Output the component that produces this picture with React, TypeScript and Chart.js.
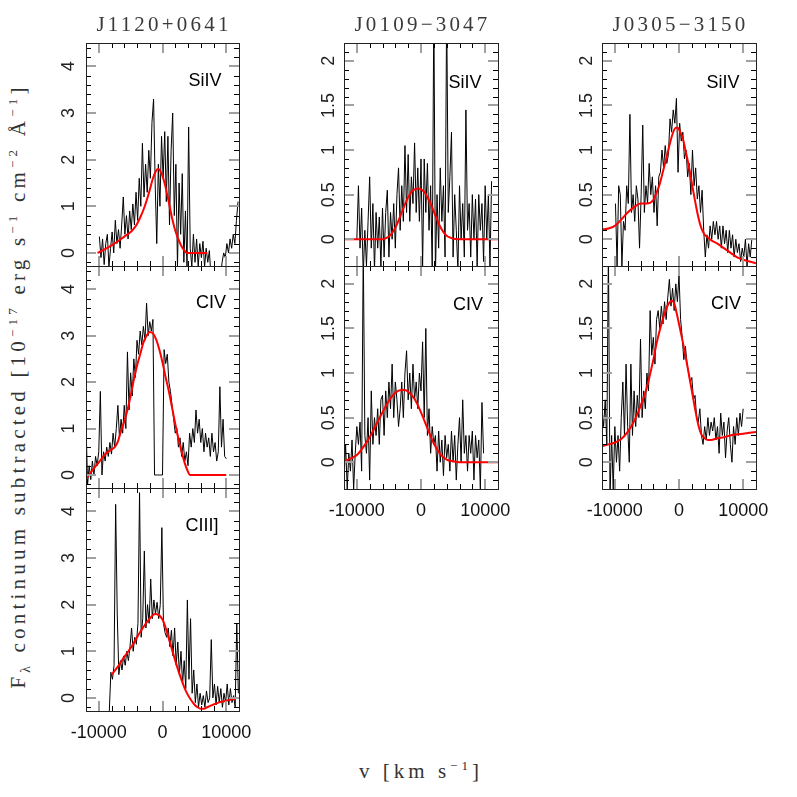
import React, { useEffect, useRef } from 'react';
import { Chart, registerables } from 'chart.js';

Chart.register(...registerables);

// ---------------- DATA ----------------
const V_STEP = 250; // km/s sampling of the plotted spectra

// J1120+0641 SiIV
const J1120_SIV_V0 = -9900;
const J1120_SIV_FLUX = [
  0.35, -0.1, 0.3, -0.25, 0.2, 0.4, -0.3, 0.1, 0.45, 0.0,
  0.7, 0.2, 0.5, 0.1, 0.6, 1.2, 0.4, 0.8, 0.3, 0.9,
  0.5, 1.05, 0.6, 1.3, 0.7, 1.6, 1.0, 2.35, 1.2, 1.9,
  1.3, 2.2, 1.6, 2.8, 3.3, 1.5, 0.2, 1.9, 1.0, 2.5,
  1.6, 2.6, 1.1, 2.5, 0.6, 2.2, 3.0, 0.8, 1.9, -0.3,
  1.5, 0.4, 1.7, -0.2, 0.9, -0.3, 2.7, 0.1, -0.3, 0.4,
  -0.2, 0.3, -0.3, 0.2, -0.1, 0.25, -0.3, 0.1, -0.2, 0.05,
  -0.5, -0.3, -0.6, -0.4, -0.7, -0.35, -0.5,
  -0.2, 0.0, -0.1, 0.2, 0.0, 0.3, 0.1, 0.4, 0.2, 0.7, 1.1,
];
const J1120_SIV_FIT_V = [-10200, -9000, -8000, -7000, -6000, -5000, -4500, -4000, -3500, -3000, -2500, -2000, -1500, -1000, -700, -400, 0, 500, 1000, 1500, 2000, 2500, 3000, 3500, 3800, 5000, 7000];
const J1120_SIV_FIT_F = [0.0, 0.08, 0.16, 0.25, 0.35, 0.45, 0.52, 0.62, 0.76, 0.92, 1.12, 1.35, 1.6, 1.76, 1.8, 1.77, 1.65, 1.4, 1.08, 0.75, 0.48, 0.29, 0.14, 0.04, 0.0, 0.0, 0.0];

// J1120+0641 CIV
const J1120_CIV_V0 = -12000;
const J1120_CIV_FLUX = [
  1.1, -0.2, 0.2, -0.1, 0.3, 0.0, 0.4, 0.2, 0.5, 1.8,
  0.0, 0.5, 0.3, 0.6, 0.4, 0.7, 0.45, 0.9, 0.6, 1.0,
  1.5, 0.8, 1.2, 0.9, 1.5, 1.0, 2.65, 1.4, 2.2, 1.7,
  2.5, 2.1, 2.9, 2.6, 3.1, 2.8, 3.2, 2.9, 3.7, 3.0,
  3.3, 3.1, 3.35, 0.0, 0.0, 0.0, 0.0, 0.0, 0.0, 2.7,
  2.4, 2.6, 2.0, 1.8, 1.5, 1.2, 0.9, 1.0, 0.6, 0.8,
  0.4, 0.7, 0.3, 0.5, 0.2, 0.9, 0.6, 1.0, 0.7, 1.4,
  0.9, 1.2, 0.7, 1.0, 0.5, 0.9, 0.6, 0.8, 0.4, 0.9,
  0.5, 0.7, 0.3, 0.5, 1.9, 0.6, 1.2, 0.4, 0.35,
];
const J1120_CIV_FIT_V = [-12000, -11000, -10000, -9000, -8000, -7500, -7000, -6500, -6000, -5500, -5000, -4500, -4000, -3500, -3000, -2500, -2000, -1500, -1000, -500, 0, 500, 1000, 1500, 2000, 2500, 3000, 3500, 4000, 4300, 5000, 6000, 7000, 8000, 9000, 10000];
const J1120_CIV_FIT_F = [-0.1, 0.1, 0.27, 0.45, 0.55, 0.6, 0.72, 0.95, 1.15, 1.4, 1.7, 2.05, 2.35, 2.6, 2.85, 3.0, 3.08, 3.05, 2.92, 2.7, 2.42, 2.1, 1.8, 1.45, 1.1, 0.78, 0.5, 0.25, 0.07, 0.0, 0.0, 0.0, 0.0, 0.0, 0.0, 0.0];

// J1120+0641 CIII]
const J1120_CIII_V0 = -8350;
const J1120_CIII_FLUX = [
  -0.3, 0.55, 0.4, 0.7, 4.15, 1.8, 0.5, 0.8, 0.6, 0.9,
  0.7, 1.0, 0.8, 1.1, 1.5, 1.0, 1.3, 1.15, 1.6, 4.4,
  1.3, 1.7, 3.15, 1.5, 2.0, 1.6, 2.55, 1.7, 2.1, 1.8,
  2.05, 1.7, 2.0, 3.65, 1.6, 1.4, 1.3, 1.5, 1.1, 1.45,
  0.9, 1.5, 0.7, 1.2, 0.5, 1.0, 0.3, 0.8, 0.2, 2.1,
  0.4, 1.7, 0.1, 0.6, -0.1, 0.3, -0.2, 0.1, -0.15, 0.05,
  -0.2, 0.15, -0.1, 0.0, 1.25, 0.0, 0.3, -0.15, 0.25, -0.1,
  0.2, -0.2, 0.1, -0.1, 0.3, -0.15, 0.2, -0.1, 0.05, -0.2,
  1.6, 0.1,
];
const J1120_CIII_FIT_V = [-8000, -7000, -6000, -5000, -4000, -3000, -2000, -1200, -500, 0, 500, 1000, 1500, 2000, 2500, 3000, 3500, 4000, 4500, 5000, 5500, 6000, 6500, 7000, 7500, 8000, 9000, 10000, 11000, 11500];
const J1120_CIII_FIT_F = [0.5, 0.67, 0.88, 1.07, 1.3, 1.52, 1.7, 1.8, 1.77, 1.68, 1.5, 1.27, 1.03, 0.8, 0.58, 0.38, 0.2, 0.06, -0.05, -0.14, -0.2, -0.23, -0.23, -0.2, -0.17, -0.14, -0.09, -0.06, -0.03, -0.02];

// J0109-3047 SiIV
const J0109_SIV_V0 = -10000;
const J0109_SIV_FLUX = [
  0.0, 0.6, -0.1, 0.35, -0.4, 0.1, -0.3, 0.2, 0.7, -0.1,
  0.4, -0.35, 0.3, -0.1, 0.25, -0.3, 0.35, -0.2, 0.3, 0.55,
  -0.2, 0.3, 0.0, 0.4, -0.1, 0.5, 0.8, 0.1, 0.6, 0.2,
  1.05, 0.3, 0.95, 0.2, 0.7, 0.4, 1.08, 0.3, 0.8, 0.2,
  0.9, -0.3, 0.9, 0.3, 0.85, 0.1, 0.6, -0.35, 2.6, -0.4,
  0.5, -0.1, 0.8, 0.2, 0.6, -0.2, 2.6, 0.3, 0.7, 1.2,
  -0.2, 0.5, 0.1, -0.35, 0.6, 0.0, 0.4, -0.2, 1.45, 0.1,
  0.4, -0.2, 0.5, 0.0, 0.45, -0.3, 0.5, 0.1, 0.4, -0.25,
  0.6, 0.0, 0.5, -0.3, 0.65,
];
const J0109_SIV_FIT_V = [-12000, -6000, -5000, -4500, -4000, -3500, -3000, -2500, -2000, -1500, -1000, -400, 0, 500, 1000, 1500, 2000, 2500, 3000, 3500, 4000, 4500, 5000, 6000, 12000];
const J0109_SIV_FIT_F = [0.0, 0.0, 0.03, 0.07, 0.13, 0.21, 0.3, 0.39, 0.47, 0.53, 0.56, 0.57, 0.56, 0.53, 0.47, 0.4, 0.31, 0.22, 0.14, 0.08, 0.04, 0.02, 0.005, 0.0, 0.0];

// J0109-3047 CIV
const J0109_CIV_V0 = -12000;
const J0109_CIV_FLUX = [
  -0.2, 0.2, -0.3, 0.1, -0.1, 0.25, -0.3, 0.1, 0.4, 0.2,
  0.45, -0.1, 2.4, 0.3, 0.1, 0.5, -0.2, 0.8, 0.2, 0.5,
  0.3, 0.6, 0.2, 0.7, 0.75, 0.3, 0.8, 0.5, 0.9, 0.6,
  1.1, 0.5, 0.9, 0.7, 0.4, 0.6, 0.9, 0.5, 1.0, 1.25,
  0.7, 1.0, 0.6, 1.1, 0.7, 0.9, 0.6, 1.0, 0.8, 1.35,
  0.5, 1.5, 0.3, 0.6, 0.1, 0.4, 0.2, 0.3, -0.1, 0.35,
  0.0, 0.25, -0.15, 0.3, 0.05, 0.2, -0.1, 0.35, 0.0, 0.3,
  -0.2, 0.2, 0.5, 0.0, 0.7, 0.1, 0.3, -0.1, 0.3, 0.1,
  0.35, -0.2, 0.3, 0.05, 0.25, -0.3, 0.67, 0.1,
];
const J0109_CIV_FIT_V = [-12000, -11000, -10000, -9000, -8000, -7000, -6000, -5000, -4000, -3000, -2500, -2000, -1000, 0, 1000, 2000, 3000, 4000, 5000, 6000, 12000];
const J0109_CIV_FIT_F = [0.01, 0.04, 0.08, 0.17, 0.28, 0.42, 0.56, 0.69, 0.78, 0.81, 0.81, 0.79, 0.71, 0.56, 0.38, 0.21, 0.09, 0.03, 0.01, 0.0, 0.0];

// J0305-3150 SiIV
const J0305_SIV_V0 = -9900;
const J0305_SIV_FLUX = [
  0.4, -0.3, 0.6, 0.5, -0.3, 0.2, 0.1, 0.6, 0.4, 1.4,
  0.3, 0.5, 0.2, 0.6, 0.45, -0.1, 0.5, 1.28, 0.3, 0.6,
  0.4, 0.85, 0.5, 0.7, 0.3, 0.6, 0.15, 0.7, 0.75, 1.0,
  0.8, 1.05, 0.85, 0.95, 1.35, 1.2, 1.45, 1.3, 1.58, 0.75,
  1.3, 1.1, 1.2, 0.9, 1.0, 0.7, 0.85, 0.5, 1.0, 0.6,
  0.8, 0.45, 0.6, 0.3, 0.55, 0.1, -0.2, 0.05, -0.1, 0.15,
  0.0, 0.2, 0.05, 0.2, 0.0, 0.15, -0.1, 0.15, -0.05, 0.1,
  -0.15, 0.1, -0.1, 0.05, -0.2, 0.0, -0.15, -0.05, -0.25, -0.1,
  -0.2, 0.0, -0.3, -0.05, -0.2, 0.0,
];
const J0305_SIV_FIT_V = [-12000, -11000, -10000, -9000, -8000, -7000, -6000, -5000, -4000, -3500, -3000, -2500, -2000, -1500, -1000, -500, -200, 200, 600, 1000, 1500, 2000, 2500, 3000, 3500, 4000, 4500, 5000, 6000, 7000, 8000, 9000, 10000, 11000, 12000];
const J0305_SIV_FIT_F = [0.11, 0.12, 0.15, 0.22, 0.3, 0.36, 0.4, 0.4, 0.44, 0.52, 0.62, 0.76, 0.9, 1.05, 1.18, 1.25, 1.25, 1.2, 1.13, 1.0, 0.83, 0.63, 0.43, 0.25, 0.12, 0.05, 0.02, -0.01, -0.05, -0.1, -0.15, -0.2, -0.23, -0.25, -0.27];

// J0305-3150 CIV
const J0305_CIV_V0 = -12000;
const J0305_CIV_FLUX = [
  0.6, 0.4, 0.7, 0.2, 2.4, -0.4, 0.3, -0.3, 0.4, 0.0,
  0.3, -0.1, 0.5, 0.9, 0.3, 1.1, 0.4, 0.0, 1.1, 0.3,
  0.8, 0.4, 0.75, 0.5, 1.38, 0.5, 0.8, 0.6, 1.0, 0.8,
  1.7, 1.2, 1.4, 1.1, 1.6, 1.7, 1.5, 1.75, 1.55, 1.8,
  1.6, 1.85, 2.05, 1.75, 1.95, 1.7, 2.0, 1.8, 2.1, 1.6,
  1.4, 1.15, 1.3, 1.1, 1.0, 0.9, 0.95, 0.7, 0.75, 0.5,
  0.45, 0.6, 0.3, 0.2, 0.4, 0.25, 0.5, 0.3, 0.45, 0.35,
  0.5, 0.25, 0.4, 0.1, 0.55, 0.3, 0.45, 0.05, 0.35, 0.5,
  0.2, 0.0, 0.4, 0.2, 0.5, 0.3, 0.55, 0.4, 0.6,
];
const J0305_CIV_FIT_V = [-12000, -11000, -10000, -9000, -8000, -7000, -6000, -5000, -4000, -3500, -3000, -2500, -2000, -1500, -1100, -700, -300, 0, 500, 1000, 1500, 2000, 2500, 3000, 3500, 4000, 4500, 5000, 6000, 7000, 8000, 9000, 10000, 11000, 12000];
const J0305_CIV_FIT_F = [0.18, 0.2, 0.22, 0.26, 0.34, 0.46, 0.63, 0.84, 1.15, 1.33, 1.48, 1.61, 1.72, 1.79, 1.81, 1.77, 1.65, 1.55, 1.38, 1.2, 1.0, 0.8, 0.6, 0.42, 0.31, 0.27, 0.25, 0.25, 0.27, 0.28, 0.3, 0.31, 0.32, 0.33, 0.34];

// Axis ticks / labels
const X_MIN = -12000;
const X_MAX = 12000;
const X_MINOR = 2000;
const X_MAJOR = 10000;
const Y_COL1 = { min: -0.28, max: 4.5, minor: 0.2, major: 1 };
const Y_COL23 = { min: -0.3, max: 2.2, minor: 0.1, major: 0.5 };

const TITLES = ['J1120+0641', 'J0109\u22123047', 'J0305\u22123150'];

// ---------------- LAYOUT ----------------
const COL_LEFT = [86, 344, 602];
const COL_WIDTH = [153, 154, 154];
const ROWS_COL1 = [[43, 223], [266, 222], [488, 223]];
const ROWS_COL23 = [[43, 223], [266, 223]];
const YW = 50;
const PT = 8;
const PR = 30;

type PanelDef = {
  col: number; row: number; bottom: boolean;
  v0: number; flux: number[]; fitV: number[]; fitF: number[];
  line: string; labelPos: [number, number];
};

const PANELS: PanelDef[] = [
  { col: 0, row: 0, bottom: false, v0: J1120_SIV_V0, flux: J1120_SIV_FLUX, fitV: J1120_SIV_FIT_V, fitF: J1120_SIV_FIT_F, line: 'SiIV', labelPos: [205, 80] },
  { col: 0, row: 1, bottom: false, v0: J1120_CIV_V0, flux: J1120_CIV_FLUX, fitV: J1120_CIV_FIT_V, fitF: J1120_CIV_FIT_F, line: 'CIV', labelPos: [211, 302] },
  { col: 0, row: 2, bottom: true, v0: J1120_CIII_V0, flux: J1120_CIII_FLUX, fitV: J1120_CIII_FIT_V, fitF: J1120_CIII_FIT_F, line: 'CIII]', labelPos: [202, 525] },
  { col: 1, row: 0, bottom: false, v0: J0109_SIV_V0, flux: J0109_SIV_FLUX, fitV: J0109_SIV_FIT_V, fitF: J0109_SIV_FIT_F, line: 'SiIV', labelPos: [465, 82] },
  { col: 1, row: 1, bottom: true, v0: J0109_CIV_V0, flux: J0109_CIV_FLUX, fitV: J0109_CIV_FIT_V, fitF: J0109_CIV_FIT_F, line: 'CIV', labelPos: [468, 304] },
  { col: 2, row: 0, bottom: false, v0: J0305_SIV_V0, flux: J0305_SIV_FLUX, fitV: J0305_SIV_FIT_V, fitF: J0305_SIV_FIT_F, line: 'SiIV', labelPos: [723, 82] },
  { col: 2, row: 1, bottom: true, v0: J0305_CIV_V0, flux: J0305_CIV_FLUX, fitV: J0305_CIV_FIT_V, fitF: J0305_CIV_FIT_F, line: 'CIV', labelPos: [726, 303] },
];

const SANS = '"Liberation Sans", Arial, Helvetica, sans-serif';
const SERIF = '"Liberation Serif", "Times New Roman", serif';

const isMult = (v: number, m: number) => Math.abs(v / m - Math.round(v / m)) < 1e-6;

function tickValues(scale: any, step: number): number[] {
  const out: number[] = [];
  const k0 = Math.ceil(scale.min / step - 1e-9);
  const k1 = Math.floor(scale.max / step + 1e-9);
  for (let k = k0; k <= k1; k++) out.push(k * step);
  return out;
}

function makeFramePlugin(xMinor: number, xMajor: number, yMinor: number, yMajor: number) {
  return {
    id: 'frameTicks',
    afterDatasetsDraw(chart: any) {
      const ctx = chart.ctx as CanvasRenderingContext2D;
      const a = chart.chartArea;
      const xs = chart.scales.x;
      const ys = chart.scales.y;
      const L = Math.round(a.left);
      const R = Math.round(a.right);
      const T = Math.round(a.top);
      const B = Math.round(a.bottom);
      ctx.save();
      for (const v of tickValues(xs, xMinor)) {
        const px = Math.round(xs.getPixelForValue(v));
        if (px <= L + 1 || px >= R - 1) continue;
        const major = isMult(v, xMajor);
        const len = major ? 10 : 5;
        ctx.fillStyle = major ? '#a0a0a0' : '#000000';
        const w = major ? 2 : 1;
        const x0 = major ? px - 1 : px;
        ctx.fillRect(x0, B - len, w, len);
        ctx.fillRect(x0, T, w, len);
      }
      for (const v of tickValues(ys, yMinor)) {
        const py = Math.round(ys.getPixelForValue(v));
        if (py <= T + 1 || py >= B - 1) continue;
        const major = isMult(v, yMajor);
        const len = major ? 10 : 5;
        ctx.fillStyle = major ? '#a0a0a0' : '#000000';
        const hgt = major ? 2 : 1;
        const y0 = major ? py - 1 : py;
        ctx.fillRect(L, y0, len, hgt);
        ctx.fillRect(R - len, y0, len, hgt);
      }
      ctx.fillStyle = '#222222';
      ctx.fillRect(L, T, R - L, 1);
      ctx.fillRect(L, B, R - L + 1, 1);
      ctx.fillRect(L, T, 1, B - T);
      ctx.fillRect(R, T, 1, B - T + 1);
      ctx.restore();
    },
  };
}

function zeroPad(s: any) {
  s.paddingLeft = 0; s.paddingRight = 0; s.paddingTop = 0; s.paddingBottom = 0;
}

function Panel({ p }: { p: PanelDef }) {
  const ref = useRef<HTMLCanvasElement>(null);
  const rows = p.col === 0 ? ROWS_COL1 : ROWS_COL23;
  const [top, h] = rows[p.row];
  const left = COL_LEFT[p.col];
  const w = COL_WIDTH[p.col];
  const yr = p.col === 0 ? Y_COL1 : Y_COL23;
  const XH = p.bottom ? 40 : 8;
  const cw = YW + w + PR;
  const ch = PT + h + XH;

  useEffect(() => {
    const spectrum = p.flux.map((f, i) => ({ x: p.v0 + i * V_STEP, y: f }));
    const fit = p.fitV.map((v, i) => ({ x: v, y: p.fitF[i] }));
    const chart = new Chart(ref.current!, {
      type: 'line',
      data: {
        datasets: [
          { data: fit, borderColor: '#ff0000', borderWidth: 2, pointRadius: 0, cubicInterpolationMode: 'monotone', clip: 0, fill: false } as any,
          { data: spectrum, borderColor: '#000000', borderWidth: 1, pointRadius: 0, tension: 0, clip: 0, fill: false } as any,
        ],
      },
      options: {
        responsive: false,
        animation: false,
        events: [],
        layout: { padding: { top: PT, right: PR, left: 0, bottom: 0 } },
        plugins: { legend: { display: false }, tooltip: { enabled: false }, title: { display: false } },
        scales: {
          x: {
            type: 'linear', min: X_MIN, max: X_MAX,
            grid: { display: false, drawTicks: false }, border: { display: false },
            ticks: {
              display: p.bottom, stepSize: X_MINOR, autoSkip: false, maxRotation: 0, minRotation: 0,
              includeBounds: false, padding: 11, color: '#111',
              font: { family: SANS, size: 18 },
              callback: (v: any) => (isMult(Number(v), X_MAJOR) ? String(v) : ''),
            },
            afterFit: (s: any) => { s.height = XH; zeroPad(s); },
          },
          y: {
            type: 'linear', min: yr.min, max: yr.max,
            grid: { display: false, drawTicks: false }, border: { display: false },
            ticks: {
              stepSize: yr.minor, autoSkip: false, minRotation: 90, maxRotation: 90,
              crossAlign: 'center', includeBounds: false,
              padding: p.col === 0 ? 12 : 2.5, color: '#222',
              font: { family: SANS, size: 18 },
              callback: (v: any) => (isMult(Number(v), yr.major) ? String(Math.round(Number(v) * 10) / 10) : ''),
            },
            afterFit: (s: any) => { s.width = YW; zeroPad(s); },
          },
        },
      } as any,
      plugins: [makeFramePlugin(X_MINOR, X_MAJOR, yr.minor, yr.major)],
    });
    return () => chart.destroy();
  }, []);

  return (
    <canvas
      ref={ref}
      width={cw}
      height={ch}
      style={{ position: 'absolute', left: left - YW, top: top - PT, width: cw, height: ch }}
    />
  );
}

const SUP = { fontSize: '0.62em' };

export default function App() {
  return (
    <div style={{ position: 'absolute', left: 0, top: 0, width: 797, height: 797, background: '#fff', overflow: 'hidden' }}>
      {PANELS.map((p, i) => <Panel key={i} p={p} />)}
      {TITLES.map((t, i) => (
        <div key={t} style={{
          position: 'absolute', left: COL_LEFT[i] + COL_WIDTH[i] / 2 + 1.5, top: 24,
          transform: 'translate(-50%, -50%)', fontFamily: SERIF, fontSize: 21,
          letterSpacing: 3.2, color: '#3a3a3a', whiteSpace: 'nowrap', lineHeight: 1,
        }}>{t}</div>
      ))}
      {PANELS.map((p, i) => (
        <div key={'l' + i} style={{
          position: 'absolute', left: p.labelPos[0], top: p.labelPos[1],
          transform: 'translate(-50%, -50%)', fontFamily: SANS, fontSize: 18,
          color: '#000', whiteSpace: 'nowrap', lineHeight: 1,
        }}>{p.line}</div>
      ))}
      <div style={{
        position: 'absolute', left: 19, top: 386, transform: 'translate(-50%, -50%) rotate(-90deg)',
        fontFamily: SERIF, fontSize: 21, letterSpacing: 4.2, color: '#333', whiteSpace: 'nowrap', lineHeight: 1,
      }}>
        F<sub style={{ fontSize: '0.65em' }}>λ</sub> continuum subtracted [10<sup style={SUP}>−17</sup> erg s<sup style={SUP}>−1</sup> cm<sup style={SUP}>−2</sup> Å<sup style={SUP}>−1</sup>]
      </div>
      <div style={{
        position: 'absolute', left: 421, top: 770, transform: 'translate(-50%, -50%)',
        fontFamily: SERIF, fontSize: 21, letterSpacing: 4, color: '#333', whiteSpace: 'nowrap', lineHeight: 1,
      }}>
        v [km s<sup style={SUP}>−1</sup>]
      </div>
    </div>
  );
}
